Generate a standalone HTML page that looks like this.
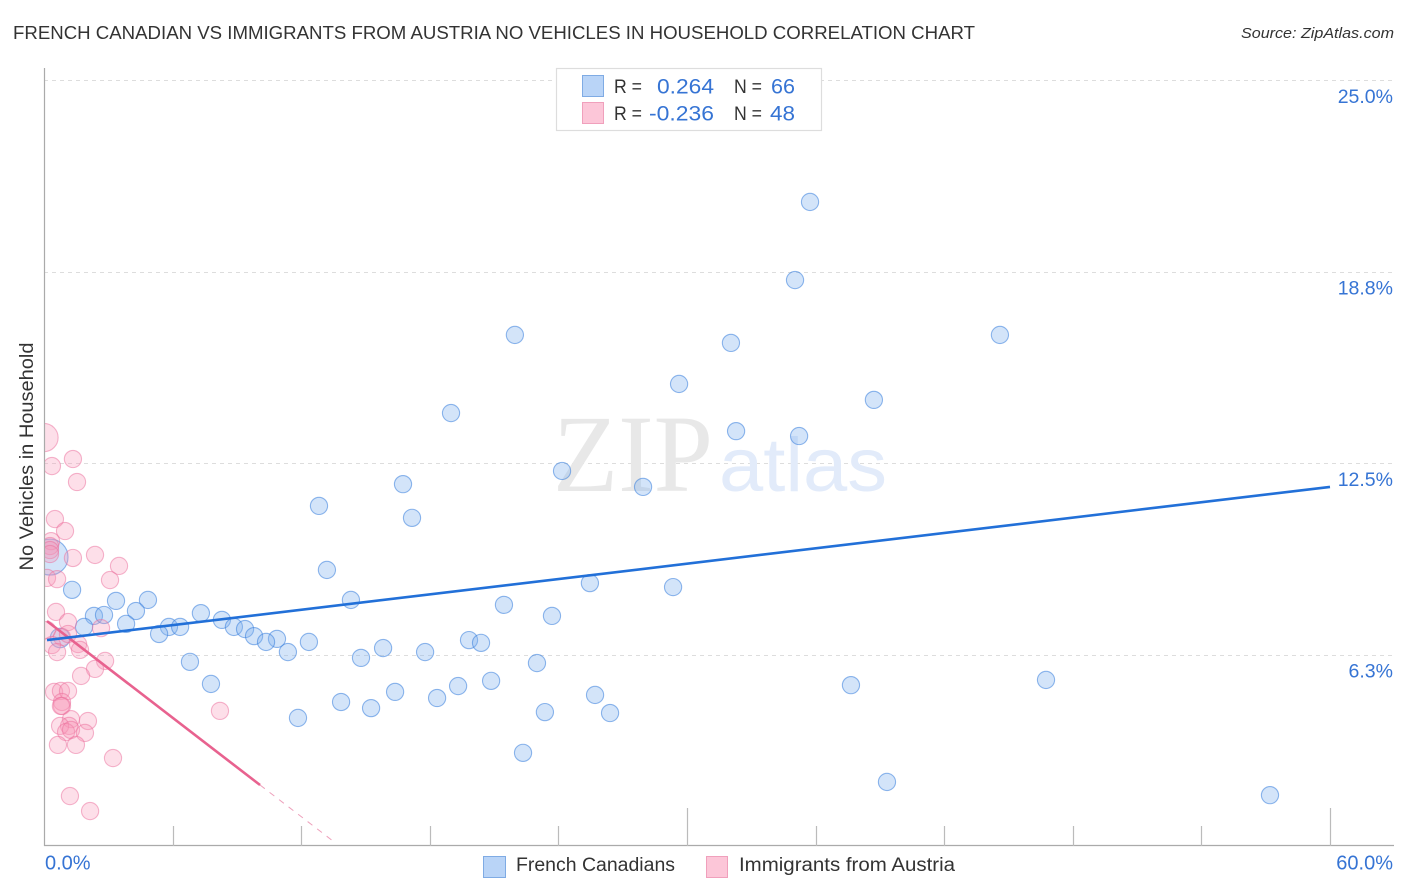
<!DOCTYPE html>
<html lang="en">
<head>
<meta charset="utf-8">
<title>French Canadian vs Immigrants from Austria No Vehicles in Household Correlation Chart</title>
<style>
html,body{margin:0;padding:0;background:#fff;width:1406px;height:892px;overflow:hidden}
svg{display:block;font-family:"Liberation Sans",sans-serif}
</style>
</head>
<body>
<svg id="chart" width="1406" height="892" viewBox="0 0 1406 892" xmlns="http://www.w3.org/2000/svg">
  <text x="13" y="39" font-size="18" fill="#333" textLength="962" lengthAdjust="spacingAndGlyphs">FRENCH CANADIAN VS IMMIGRANTS FROM AUSTRIA NO VEHICLES IN HOUSEHOLD CORRELATION CHART</text>
  <text x="1241" y="38" font-size="15" font-style="italic" fill="#333" textLength="153" lengthAdjust="spacingAndGlyphs">Source: ZipAtlas.com</text>

  <g id="grid"></g>

  <g>
    <text x="553" y="491" font-family="'Liberation Serif',serif" font-size="110" fill="#e8e8e8" textLength="160" lengthAdjust="spacingAndGlyphs">ZIP</text>
    <text x="719" y="491" font-size="76" fill="#e2ebfa" textLength="168" lengthAdjust="spacingAndGlyphs">atlas</text>
  </g>

  <g id="points-blue"></g>
  <g id="points-pink"></g>
  <rect x="0" y="60" width="44" height="790" fill="#fff"/>
  <g id="trends"></g>
  <g id="axes"></g>

  <text transform="translate(33,456.5) rotate(-90)" text-anchor="middle" font-size="19" fill="#333" textLength="228" lengthAdjust="spacingAndGlyphs">No Vehicles in Household</text>

  <g>
    <rect x="556.5" y="68.5" width="265" height="62" fill="#fff" stroke="#ddd" stroke-width="1.2"/>
    <rect x="582.5" y="75.5" width="21" height="21" fill="#b9d4f7" stroke="#7fabe4"/>
    <rect x="582.5" y="102.5" width="21" height="21" fill="#fcc6d8" stroke="#f0a0bc"/>
    <text x="614" y="93" font-size="19.5" fill="#333" textLength="28" lengthAdjust="spacingAndGlyphs">R =</text>
    <text x="657" y="93.5" font-size="21" fill="#3674d4" textLength="57" lengthAdjust="spacingAndGlyphs">0.264</text>
    <text x="734" y="93" font-size="19.5" fill="#333" textLength="28" lengthAdjust="spacingAndGlyphs">N =</text>
    <text x="771" y="93.5" font-size="21" fill="#3674d4" textLength="24" lengthAdjust="spacingAndGlyphs">66</text>
    <text x="614" y="120" font-size="19.5" fill="#333" textLength="28" lengthAdjust="spacingAndGlyphs">R =</text>
    <text x="649" y="120.5" font-size="21" fill="#3674d4" textLength="65" lengthAdjust="spacingAndGlyphs">-0.236</text>
    <text x="734" y="120" font-size="19.5" fill="#333" textLength="28" lengthAdjust="spacingAndGlyphs">N =</text>
    <text x="770" y="120.5" font-size="21" fill="#3674d4" textLength="25" lengthAdjust="spacingAndGlyphs">48</text>
  </g>

  <g>
    <rect x="483.5" y="856.5" width="22" height="21" fill="#b9d4f7" stroke="#7fabe4"/>
    <text x="516" y="871" font-size="19" fill="#333" textLength="159" lengthAdjust="spacingAndGlyphs">French Canadians</text>
    <rect x="706.5" y="856.5" width="21" height="21" fill="#fcc6d8" stroke="#f0a0bc"/>
    <text x="739" y="871" font-size="19" fill="#333" textLength="216" lengthAdjust="spacingAndGlyphs">Immigrants from Austria</text>
  </g>
</svg>
<script>
const xTickValues = [0, 6, 12, 18, 24, 30, 36, 42, 48, 54, 60];
const xTickLabels = ['0.0%', '', '', '', '', '', '', '', '', '', '60.0%'];
const yTickValues = [6.25, 12.5, 18.75, 25];
const yTickLabels = ['6.3%', '12.5%', '18.8%', '25.0%'];

const blueX = [35.74,35.04,21.97,44.60,32.05,29.63,38.72,18.99,32.29,35.23,24.17,27.95,16.75,12.83,17.17,13.20,25.47,29.35,1.31,14.32,21.46,4.85,3.36,2.33,2.80,4.29,7.32,23.70,1.87,3.83,8.30,5.83,6.35,8.86,9.38,5.37,9.80,0.75,10.87,10.36,12.36,19.83,20.39,15.82,11.38,17.78,14.79,6.81,23.00,7.79,37.65,46.75,20.86,19.32,16.38,25.71,18.34,13.86,15.26,23.37,26.41,11.85,22.35,39.33,57.20,0.28];
const blueY = [21.02,18.47,16.68,16.68,16.42,15.08,14.56,14.13,13.54,13.38,12.24,11.72,11.81,11.10,10.71,9.01,8.58,8.45,8.36,8.03,7.87,8.03,8.00,7.51,7.54,7.67,7.60,7.51,7.15,7.25,7.38,7.15,7.15,7.15,7.08,6.92,6.85,6.79,6.76,6.66,6.66,6.72,6.63,6.46,6.33,6.33,6.14,6.01,5.97,5.29,5.25,5.42,5.39,5.22,5.03,4.93,4.83,4.70,4.50,4.37,4.34,4.18,3.04,2.09,1.66,9.43];
const blueSize = [1,1,1,1,1,1,1,1,1,1,1,1,1,1,1,1,1,1,1,1,1,1,1,1,1,1,1,1,1,1,1,1,1,1,1,1,1,1.3,1,1,1,1,1,1,1,1,1,1,1,1,1,1,1,1,1,1,1,1,1,1,1,1,1,1,1,4.4];

const pinkX = [0.00,0.37,1.35,1.54,0.51,0.98,0.33,0.28,0.28,0.28,1.35,2.38,3.50,3.08,0.14,0.61,0.56,1.12,2.66,0.14,0.84,1.12,1.59,1.68,0.37,0.61,2.85,2.38,1.73,0.47,0.79,1.12,0.84,0.84,8.21,1.26,2.05,1.17,0.75,1.03,1.26,1.91,0.65,1.49,3.22,1.21,2.15,0.79];
const pinkY = [13.33,12.40,12.63,11.88,10.67,10.28,9.95,9.79,9.66,9.53,9.40,9.50,9.14,8.68,8.75,8.71,7.64,7.31,7.11,7.05,6.82,6.92,6.59,6.40,6.56,6.33,6.04,5.78,5.55,5.03,5.06,5.06,4.70,4.57,4.41,4.14,4.08,3.92,3.92,3.72,3.79,3.69,3.30,3.30,2.87,1.63,1.14,4.57];
const pinkSize = [2.7,1,1,1,1,1,1,1,1,1,1,1,1,1,1,1,1,1,1,1,1,1,1,1,1,1,1,1,1,1,1,1,1,1,1,1,1,1,1,1,1,1,1,1,1,1,1,1];

const blueTrendX = [0.14, 60];
const blueTrendY = [6.72, 11.72];
const pinkTrendX = [0.14, 10.08];
const pinkTrendY = [7.34, 1.99];
const pinkDashX = [10.08, 13.58];
const pinkDashY = [1.99, 0.11];

const NS = 'http://www.w3.org/2000/svg';
function xScale(v) { return 44 + v * (1286 / 60); }
function yScale(v) { return 846 - v * (766 / 25); }
function make(tag, attrs, parent) {
  const el = document.createElementNS(NS, tag);
  for (const k in attrs) el.setAttribute(k, attrs[k]);
  parent.appendChild(el);
  return el;
}

const gridG = document.getElementById('grid');
const axesG = document.getElementById('axes');
const blueG = document.getElementById('points-blue');
const pinkG = document.getElementById('points-pink');
const trendG = document.getElementById('trends');

yTickValues.forEach(function (v, i) {
  const y = Math.round(yScale(v)) + 0.5;
  const line = make('line', { x1: 44, x2: 1393, y1: y, y2: y, stroke: '#ddd', 'stroke-width': 1, 'stroke-dasharray': '4 4' }, gridG);
  
  
  const label = make('text', { x: 1393, y: yScale(v) + 23, 'text-anchor': 'end', 'font-size': 19.5, fill: '#3674d4' }, axesG);
  label.textContent = yTickLabels[i];
  
  
});

function drawPoints(xs, ys, sizes, group, fill, stroke) {
  xs.forEach(function (xv, i) {
    const c = make('circle', { cx: xScale(xv), cy: yScale(ys[i]), r: 8.6 * Math.sqrt(sizes[i]), fill: fill, stroke: stroke, 'stroke-width': 1.1 }, group);
    
    
  });
}
drawPoints(blueX, blueY, blueSize, blueG, 'rgba(130,178,238,0.35)', 'rgba(55,125,220,0.55)');
drawPoints(pinkX, pinkY, pinkSize, pinkG, 'rgba(247,150,182,0.3)', 'rgba(236,110,155,0.5)');

function drawTrend(xs, ys, stroke, width, dash, name) {
  const l = make('line', { x1: xScale(xs[0]), y1: yScale(ys[0]), x2: xScale(xs[1]), y2: yScale(ys[1]), stroke: stroke, 'stroke-width': width }, trendG);
  if (dash) l.setAttribute('stroke-dasharray', dash);
  
  
}
drawTrend(pinkTrendX, pinkTrendY, '#e8628f', 2.6, null, 'trend-line-immigrants-from-austria');
drawTrend(pinkDashX, pinkDashY, '#eea0bb', 1, '6 6', 'trend-line-extension-immigrants-from-austria');
drawTrend(blueTrendX, blueTrendY, '#2270d8', 2.6, null, 'trend-line-french-canadians');

const yAxis = make('line', { x1: 44.5, x2: 44.5, y1: 68, y2: 846, stroke: '#aaa', 'stroke-width': 1.2 }, axesG);


const xAxis = make('line', { x1: 44, x2: 1394, y1: 845.5, y2: 845.5, stroke: '#aaa', 'stroke-width': 1.2 }, axesG);



xTickValues.forEach(function (v, i) {
  const x = Math.round(xScale(v)) + 0.5;
  if (v !== 0) {
    const tall = v === 30 || v === 60;
    const t = make('line', { x1: x, x2: x, y1: tall ? 808 : 826, y2: 846, stroke: '#bbb', 'stroke-width': 1.2 }, axesG);
    
    
  }
  if (xTickLabels[i]) {
    const first = v === 0;
    const label = make('text', { x: first ? 45 : 1393, y: 869.5, 'text-anchor': first ? 'start' : 'end', 'font-size': 20, fill: '#3674d4' }, axesG);
    label.textContent = xTickLabels[i];
    
    
  }
});
</script>
</body>
</html>
